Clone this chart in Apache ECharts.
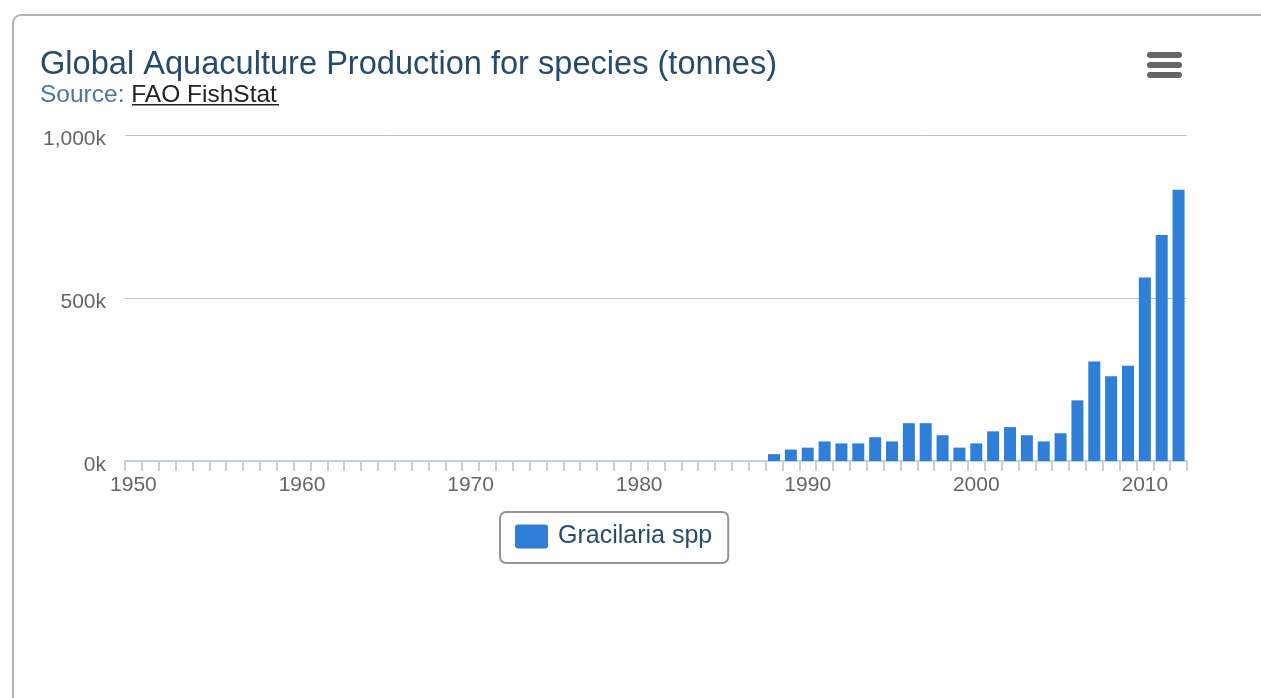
<!DOCTYPE html>
<html>
<head>
<meta charset="utf-8">
<script src="https://cdn.jsdelivr.net/npm/echarts@6/dist/echarts.min.js"></script>
<style>
html,body{margin:0;padding:0;background:#fff;}
#chart{width:1261px;height:698px;}
</style>
</head>
<body>
<div id="chart"></div>
<script>
const years = ['1950','1951','1952','1953','1954','1955','1956','1957','1958','1959',
  '1960','1961','1962','1963','1964','1965','1966','1967','1968','1969',
  '1970','1971','1972','1973','1974','1975','1976','1977','1978','1979',
  '1980','1981','1982','1983','1984','1985','1986','1987','1988','1989',
  '1990','1991','1992','1993','1994','1995','1996','1997','1998','1999',
  '2000','2001','2002','2003','2004','2005','2006','2007','2008','2009',
  '2010','2011','2012'];
const prodYears = ['1988','1989','1990','1991','1992','1993','1994','1995','1996','1997',
  '1998','1999','2000','2001','2002','2003','2004','2005','2006','2007',
  '2008','2009','2010','2011','2012'];
const prodValues = [21000,35000,41000,60000,54000,54000,73000,60000,116000,116000,
  79000,41000,54000,91000,104000,79000,60000,85000,186000,305000,
  260000,292000,563000,693000,832000];
const yTicks = [0, 500000, 1000000];
const xLabelStep = 10;
const seriesName = 'Gracilaria spp';

const lookup = {};
prodYears.forEach((y, i) => { lookup[y] = prodValues[i]; });
const seriesData = years.map(y => (y in lookup ? lookup[y] : null));
const firstYear = Number(years[0]);
const lastEdge = Number(years[years.length - 1]) + 1;

const FONT = '"Liberation Sans", Arial, Helvetica, sans-serif';
const chart = echarts.init(document.getElementById('chart'), null, {renderer: 'canvas'});
chart.setOption({
  animation: false,
  backgroundColor: 'transparent',
  textStyle: {fontFamily: FONT},
  graphic: [
    {type: 'rect', z: -10, shape: {x: 13, y: 15, width: 1400, height: 900, r: 8},
      style: {fill: '#ffffff', stroke: '#b4b4b4', lineWidth: 2}},
    {type: 'rect', shape: {x: 1147, y: 52, width: 35, height: 6, r: 3}, style: {fill: '#666666'}},
    {type: 'rect', shape: {x: 1147, y: 62, width: 35, height: 6, r: 3}, style: {fill: '#666666'}},
    {type: 'rect', shape: {x: 1147, y: 72, width: 35, height: 6, r: 3}, style: {fill: '#666666'}},
    {type: 'rect', shape: {x: 132, y: 104, width: 147, height: 1.5}, style: {fill: '#222222'}}
  ],
  title: [
    {text: 'Global Aquaculture Production for species (tonnes)', left: 40, top: 49, padding: 0,
      textStyle: {color: '#274b6d', fontSize: 32.6, fontWeight: 'normal', fontFamily: FONT}},
    {text: '{a|Source: }{b|FAO FishStat}', left: 40, top: 83, padding: 0,
      textStyle: {fontSize: 24.5, fontWeight: 'normal', fontFamily: FONT,
        rich: {a: {color: '#4d759e', fontSize: 24.5, fontFamily: FONT},
               b: {color: '#222222', fontSize: 24.5, fontFamily: FONT}}}}
  ],
  legend: {
    data: [seriesName], left: 500, top: 512,
    padding: [12, 16, 14, 15],
    borderColor: '#959595', borderWidth: 2, borderRadius: 6,
    itemWidth: 33, itemHeight: 24,
    icon: 'path://M3,0 H30 Q33,0 33,3 V21 Q33,24 30,24 H3 Q0,24 0,21 V3 Q0,0 3,0 Z',
    textStyle: {color: '#274b6d', fontSize: 25, fontFamily: FONT, padding: [0, 0, 0, 5]}
  },
  grid: {left: 125, right: 74, top: 135, bottom: 237, containLabel: false},
  xAxis: [
    {type: 'category', data: years, boundaryGap: true, position: 'bottom',
      axisLine: {show: false}, axisTick: {show: false}, splitLine: {show: false},
      axisLabel: {show: true, color: '#666666', fontSize: 21, fontFamily: FONT, margin: 14,
        interval: (i) => i % xLabelStep === 0}},
    {type: 'value', min: firstYear, max: lastEdge, interval: 1, position: 'bottom',
      axisLine: {show: true, lineStyle: {color: '#c0d0e0', width: 2}},
      axisTick: {show: true, length: 10, lineStyle: {color: '#c0d0e0', width: 2}},
      splitLine: {show: false}, axisLabel: {show: false}}
  ],
  yAxis: {
    type: 'value', min: yTicks[0], max: yTicks[yTicks.length - 1], interval: yTicks[1] - yTicks[0],
    axisLine: {show: false}, axisTick: {show: false},
    splitLine: {lineStyle: {color: '#c0c0c0', width: 1}},
    axisLabel: {color: '#666666', fontSize: 21, fontFamily: FONT, margin: 19,
      verticalAlign: 'top', lineHeight: 8,
      formatter: v => (v / 1000).toLocaleString('en-US') + 'k'}
  },
  series: [{
    name: seriesName, type: 'bar', xAxisIndex: 0, data: seriesData,
    barWidth: 12, itemStyle: {color: '#2f7ed8'}
  }]
});
</script>
</body>
</html>
